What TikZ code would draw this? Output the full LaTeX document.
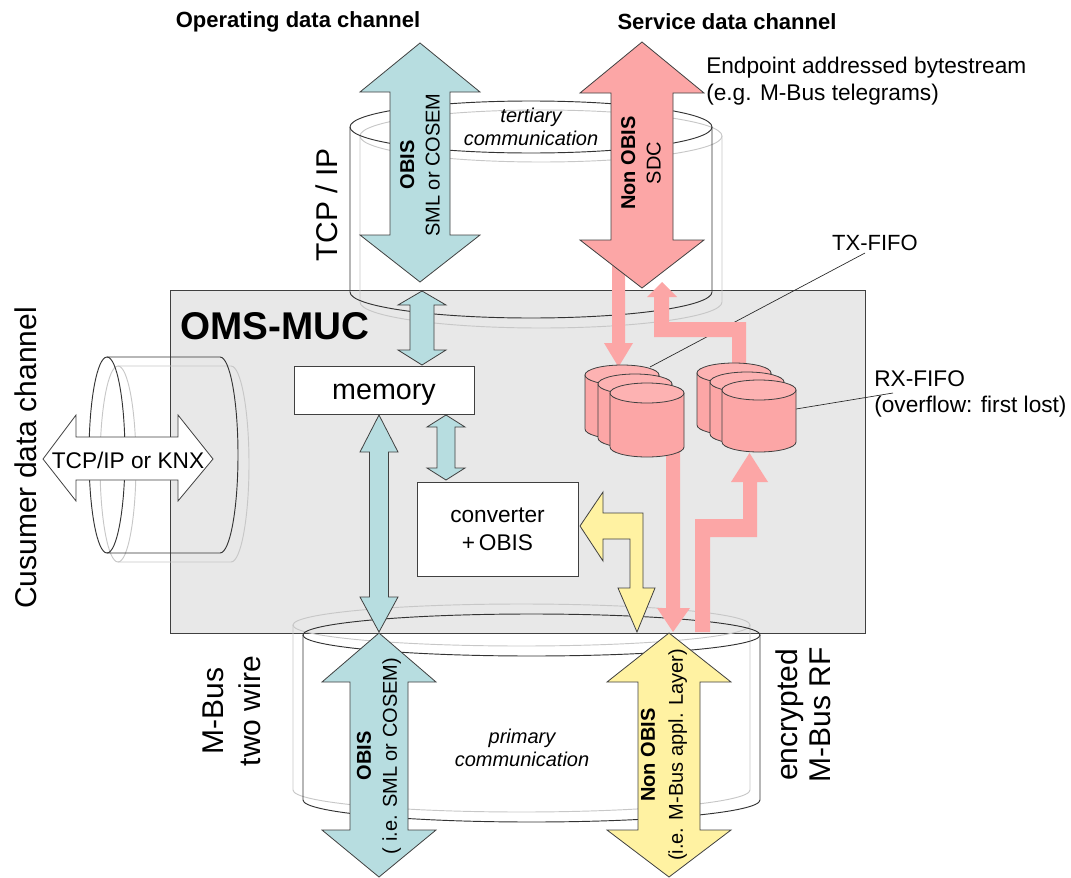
\documentclass[tikz,border=0pt]{standalone}
\usepackage{fontspec}
\setmainfont{Liberation Sans}
\definecolor{mucgray}{HTML}{E8E8E8}
\definecolor{bluef}{HTML}{B7DDE0}
\definecolor{pinkf}{HTML}{FCA6A6}
\definecolor{pinktop}{HTML}{FDB2B2}
\definecolor{yellowf}{HTML}{FFF2A2}
\definecolor{edge}{HTML}{404040}

% vertical double block arrow:
% #1 style, #2 x, #3 top tip y, #4 bottom tip y, #5 head half width,
% #6 shaft half width, #7 top head length, #8 bottom head length
\newcommand{\VDArrow}[8]{%
  \path[#1] (#2,#3) -- ({#2+#5},{#3+#7}) -- ({#2+#6},{#3+#7})
    -- ({#2+#6},{#4-#8}) -- ({#2+#5},{#4-#8}) -- (#2,#4)
    -- ({#2-#5},{#4-#8}) -- ({#2-#6},{#4-#8}) -- ({#2-#6},{#3+#7})
    -- ({#2-#5},{#3+#7}) -- cycle;}

% one drum of a FIFO stack: #1 x, #2 top centre y, #3 bottom centre y
\newcommand{\FifoCyl}[3]{%
  \path[fifobody] ({#1-37},#2) -- ({#1-37},#3)
    arc[start angle=180, end angle=0, x radius=37, y radius=10]
    -- ({#1+37},#2) -- cycle;
  \path[fifotop] (#1,#2) ellipse[x radius=37, y radius=10];}

\tikzset{
  outl/.style={draw=edge, line width=0.6pt, line join=miter},
  bluearr/.style={outl, fill=bluef},
  pinkarr/.style={outl, fill=pinkf},
  yelarr/.style={outl, fill=yellowf},
  whitearr/.style={outl, fill=white},
  flowarr/.style={fill=pinkf},
  cylfront/.style={draw=black!80, line width=0.7pt},
  cylback/.style={draw=black!22, line width=0.7pt},
  fifobody/.style={draw=edge, line width=0.6pt, fill=pinkf},
  fifotop/.style={draw=edge, line width=0.6pt, fill=pinktop},
  unitbox/.style={draw=edge, line width=0.6pt, fill=white, inner sep=0pt},
  lbl/.style={inner sep=0pt, text=black},
  leader/.style={draw=black!85, line width=0.5pt},
}

\begin{document}
\begin{tikzpicture}[x=0.75pt, y=-0.75pt]
\useasboundingbox (0,0) rectangle (1071,878);

% the OMS-MUC unit
\path[draw=edge, line width=0.6pt, fill=mucgray] (170,290) rectangle (865,633);

% tertiary communication cylinder (TCP/IP)
\path[cylback] (541,136) ellipse[x radius=181, y radius=26];
\path[cylback] (360,136) -- (360,302)
  arc[start angle=180, end angle=0, x radius=181, y radius=26] -- (722,136);
\path[cylfront] (531,127) ellipse[x radius=181, y radius=26];
\path[cylfront] (350,127) -- (350,292)
  arc[start angle=180, end angle=0, x radius=181, y radius=26] -- (712,127);

% customer data channel cylinder
\path[cylback] (118,464) ellipse[x radius=18, y radius=98];
\path[cylback] (118,366) -- (231,366)
  arc[start angle=-90, end angle=90, x radius=18, y radius=98] -- (118,562);
\path[cylfront] (107,455) ellipse[x radius=18, y radius=98];
\path[cylfront] (107,357) -- (220,357)
  arc[start angle=-90, end angle=90, x radius=18, y radius=98] -- (107,553);

% primary communication cylinder
\path[cylback] (521.5,625) ellipse[x radius=228.5, y radius=21];
\path[cylback] (293,625) -- (293,790)
  arc[start angle=180, end angle=0, x radius=228.5, y radius=22] -- (750,625);
\path[cylfront] (531.5,635) ellipse[x radius=228.5, y radius=21];
\path[cylfront] (303,635) -- (303,800)
  arc[start angle=180, end angle=0, x radius=228.5, y radius=22] -- (760,635);

% FIFO labels and their leaders
\node[lbl, font=\fontsize{16.5}{19}\selectfont] (txlbl) at (875,243) {TX-FIFO};
\node[lbl, anchor=west, align=left, font=\fontsize{17}{20}\selectfont]
  (rxlbl) at (874,394) {RX-FIFO\\(overflow: first lost)};
\coordinate (txend) at (650,367);
\coordinate (rxend) at (796,409);
\path[leader] (865,253) -- (txend);
\path[leader] (893,393) -- (rxend);

% service data flows into and out of the FIFOs
\path[flowarr] (612,255) -- (625,255) -- (625,343) -- (633,343) -- (618.5,367)
  -- (604,343) -- (612,343) -- cycle;
\path[flowarr] (732,380) -- (732,337) -- (654,337) -- (654,297) -- (647,297)
  -- (662,282) -- (677,297) -- (669,297) -- (669,322) -- (746,322) -- (746,380) -- cycle;
\path[flowarr] (666,440) -- (680,440) -- (680,608) -- (690,608) -- (673,632)
  -- (657,608) -- (666,608) -- cycle;
\path[flowarr] (695,632) -- (695,519) -- (743,519) -- (743,482) -- (731,482)
  -- (749.5,453) -- (768,482) -- (757,482) -- (757,537) -- (710,537) -- (710,632) -- cycle;

% channel arrows
\VDArrow{bluearr}{420}{43}{282}{60}{30}{49}{47}
\VDArrow{pinkarr}{642}{42}{288}{62}{31}{51}{48}
\VDArrow{bluearr}{422}{291}{365}{24}{12}{14}{15}
\VDArrow{bluearr}{446}{415}{480}{19}{9}{12}{12}
\VDArrow{bluearr}{379}{415}{632}{19}{9.5}{37}{35}
\VDArrow{bluearr}{379}{633}{877}{57}{29}{49}{47}
\VDArrow{yelarr}{669}{633}{877}{62}{31}{49}{47}

% customer data arrow
\path[whitearr] (43,459) -- (76,415) -- (76,437) -- (178,437) -- (178,415)
  -- (213,459) -- (178,501) -- (178,480) -- (76,480) -- (76,501) -- cycle;

% converter link to the RF channel
\path[yelarr] (580,526) -- (603,492) -- (603,513) -- (643,513) -- (643,588)
  -- (655,588) -- (637,632) -- (618,588) -- (630,588) -- (630,539)
  -- (603,539) -- (603,561) -- cycle;

% TX-FIFO stack
\FifoCyl{622}{375}{429}
\FifoCyl{635}{384}{438}
\FifoCyl{647}{393}{447}
% RX-FIFO stack
\FifoCyl{734}{373}{425}
\FifoCyl{747}{382}{434}
\FifoCyl{759}{390}{442}

% function blocks
\node[unitbox, minimum width=135pt, minimum height=36pt] (mem) at (384,390) {};
\node[lbl, font=\fontsize{21.5}{24}\selectfont, anchor=base] (memtxt) at (384,399) {memory};
\node[unitbox, minimum width=120.75pt, minimum height=70.5pt, align=center,
  font=\fontsize{17}{21}\selectfont] (conv) at (497.5,529) {converter\\+\,OBIS};

% headings and labels
\node[lbl, font=\bfseries\fontsize{16.5}{19}\selectfont] (opch) at (298,22) {Operating data channel};
\node[lbl, font=\bfseries\fontsize{16.5}{19}\selectfont] (svch) at (727,22) {Service data channel};
\node[lbl, anchor=west, align=left, font=\fontsize{17}{20.25}\selectfont]
  (ept) at (706,81) {Endpoint addressed bytestream\\(e.g. M-Bus telegrams)};
\node[lbl, anchor=west, font=\bfseries\fontsize{29}{32}\selectfont] (muclbl) at (180,326) {OMS-MUC};

\node[lbl, rotate=90, font=\fontsize{22.5}{26}\selectfont] (tcpip) at (327,205) {TCP / IP};
\node[lbl, rotate=90, font=\fontsize{22.5}{26}\selectfont] (cust) at (26,458) {Cusumer data channel};
\node[lbl, rotate=90, align=center, font=\fontsize{22.5}{27.75}\selectfont]
  (mbus) at (232,711) {M-Bus\\two wire};
\node[lbl, rotate=90, align=center, font=\fontsize{22.5}{25}\selectfont]
  (rf) at (803,715) {encrypted\\M-Bus RF};

\node[lbl, align=center, font=\itshape\fontsize{15}{17.25}\selectfont]
  (tert) at (531,127) {tertiary\\communication};
\node[lbl, align=center, font=\itshape\fontsize{15}{17.25}\selectfont]
  (prim) at (522,748) {primary\\communication};

\node[lbl, font=\fontsize{17}{20}\selectfont] (knx) at (128,460) {TCP/IP or KNX};

\node[lbl, rotate=90, align=center, font=\fontsize{15}{19}\selectfont]
  (obistop) at (420,165) {\textbf{OBIS}\\SML or COSEM};
\node[lbl, rotate=90, align=center, font=\fontsize{15}{19}\selectfont]
  (sdc) at (641,163) {\textbf{Non OBIS}\\SDC};
\node[lbl, rotate=90, align=center, font=\fontsize{15}{19.5}\selectfont]
  (obisbot) at (379,756) {\textbf{OBIS}\\( i.e. SML or COSEM)};
\node[lbl, rotate=90, align=center, font=\fontsize{15}{21}\selectfont]
  (nonobis) at (664,755) {\textbf{Non OBIS}\\(i.e. M-Bus appl. Layer)};
\end{tikzpicture}
\end{document}
